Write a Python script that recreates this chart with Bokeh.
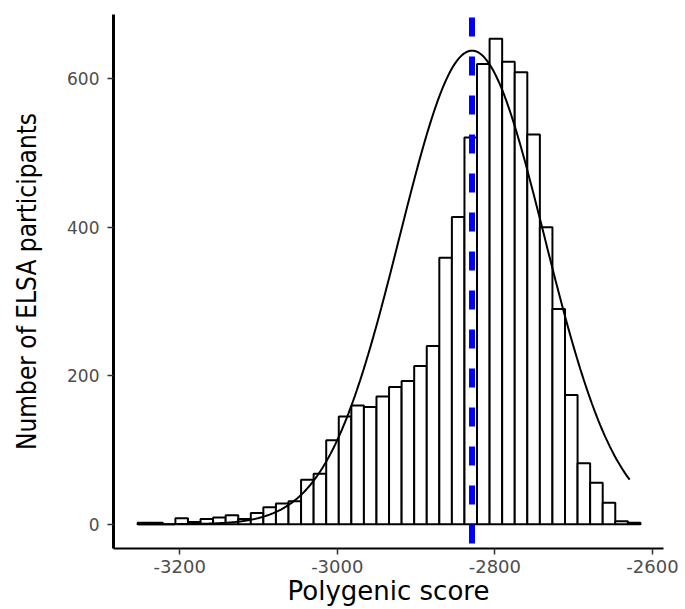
import numpy as np
from bokeh.plotting import figure
from bokeh.models import Span, FixedTicker, Range1d
from bokeh.embed import file_html
from bokeh.resources import INLINE

# ---- data ----
bin_start = -3253.3          # left edge of first histogram bin
bin_width = 15.95            # histogram bin width
counts = [2, 2, 0, 8, 3, 7, 9, 12, 7, 15, 23, 28, 31, 60, 68, 113, 145, 160, 158,
          172, 185, 193, 213, 240, 359, 414, 521, 620, 654, 623, 609, 525, 400,
          290, 174, 82, 56, 29, 4, 2]
mean_score = -2829.0         # dashed blue reference line
curve_mean = -2829.0         # fitted normal curve parameters
curve_sd = 92.0
curve_peak = 638.0
curve_from = -3253.0
curve_to = -2629.0
x_ticks = [-3200, -3000, -2800, -2600]
x_tick_labels = ["-3200", "-3000", "-2800", "-2600"]
y_ticks = [0, 200, 400, 600]
y_tick_labels = ["0", "200", "400", "600"]

n = len(counts)
lefts = [bin_start + i * bin_width for i in range(n)]
rights = [l + bin_width for l in lefts]

cx = np.linspace(curve_from, curve_to, 300)
cy = curve_peak * np.exp(-0.5 * ((cx - curve_mean) / curve_sd) ** 2)

p = figure(width=685, height=609, output_backend="svg", toolbar_location=None,
           x_range=Range1d(-3284, -2586), y_range=Range1d(-32.7, 686.7),
           min_border_left=113, min_border_right=22, min_border_top=14,
           min_border_bottom=61)
p.outline_line_color = None
p.grid.visible = False
p.background_fill_color = "white"
p.border_fill_color = "white"

p.quad(left=lefts, right=rights, bottom=0, top=counts,
       fill_color="white", line_color="black", line_width=2)
p.line(cx, cy, line_color="black", line_width=2)

vline = Span(location=mean_score, dimension="height", line_color="#0000FF",
             line_width=6, line_dash="19 20", line_dash_offset=36)
p.add_layout(vline)

p.xaxis.ticker = FixedTicker(ticks=x_ticks)
p.yaxis.ticker = FixedTicker(ticks=y_ticks)
p.xaxis.major_label_overrides = {t: s for t, s in zip(x_ticks, x_tick_labels)}
p.yaxis.major_label_overrides = {t: s for t, s in zip(y_ticks, y_tick_labels)}
p.xaxis.minor_tick_line_color = None
p.yaxis.minor_tick_line_color = None

for ax in (p.xaxis, p.yaxis):
    ax.axis_line_color = "black"
    ax.major_tick_line_color = "#333333"
    ax.major_tick_line_width = 1.5
    ax.major_tick_in = 0
    ax.major_tick_out = 6
    ax.major_label_text_color = "#4D4D4D"
    ax.major_label_text_font = "DejaVu Sans"
    ax.axis_label_text_color = "black"
    ax.axis_label_text_font_style = "normal"

p.xaxis.axis_line_width = 2
p.yaxis.axis_line_width = 3
p.xaxis.major_label_text_font_size = "18px"
p.yaxis.major_label_text_font_size = "17px"
p.xaxis.major_label_standoff = 5
p.yaxis.major_label_standoff = 8

p.xaxis.axis_label = "Polygenic score"
p.xaxis.axis_label_text_font = "DejaVu Sans"
p.xaxis.axis_label_text_font_size = "26px"
p.xaxis.axis_label_standoff = 0

p.yaxis.axis_label = "Number of ELSA participants"
p.yaxis.axis_label_text_font = "DejaVu Sans Condensed, Liberation Sans, sans-serif"
p.yaxis.axis_label_text_font_size = "26px"
p.yaxis.axis_label_standoff = 22

open("out.html", "w").write(file_html(p, INLINE))
